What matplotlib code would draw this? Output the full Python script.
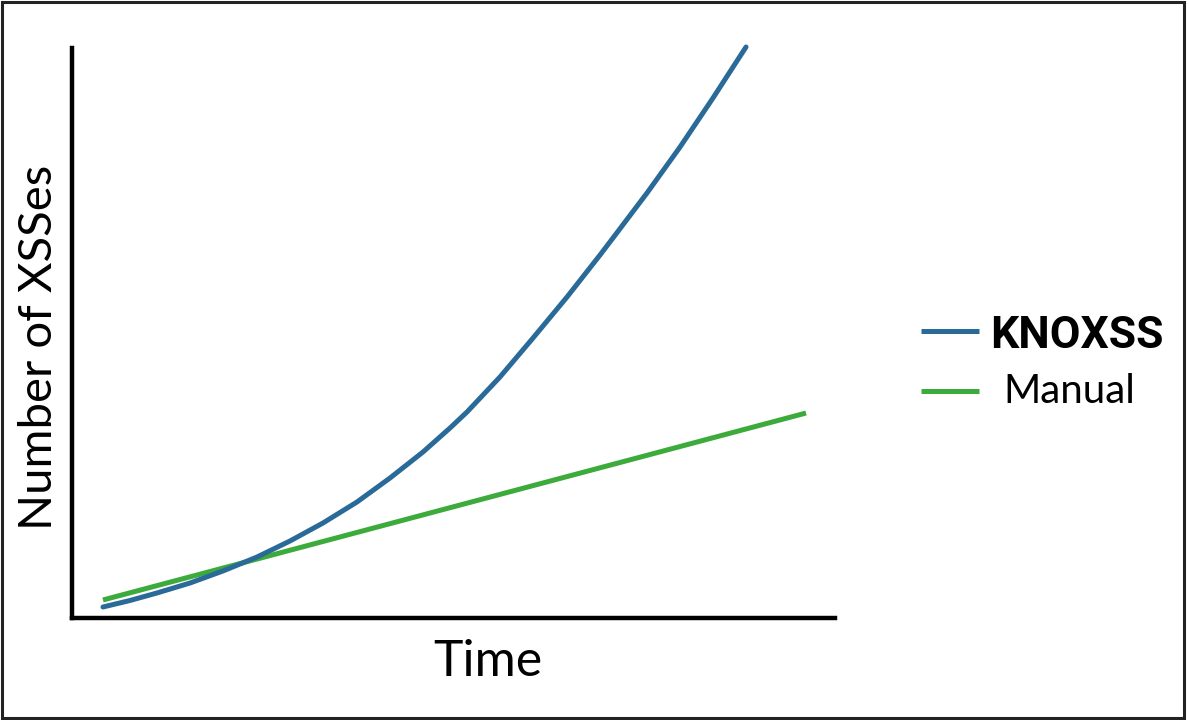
import matplotlib
matplotlib.use("Agg")
import matplotlib.pyplot as plt
from matplotlib.lines import Line2D
from matplotlib.patches import Rectangle

# values (time and count on a 0-10 scale)
knoxss_time = [0.406, 0.760, 1.114, 1.547, 1.979, 2.425, 2.857, 3.290, 3.735, 4.168, 4.600,
               4.954, 5.177, 5.609, 6.042, 6.488, 6.920, 7.090, 7.536, 7.969, 8.401, 8.834]
knoxss_count = [0.193, 0.307, 0.439, 0.614, 0.825, 1.070, 1.351, 1.667, 2.035, 2.456, 2.912,
                3.333, 3.614, 4.228, 4.912, 5.632, 6.368, 6.667, 7.456, 8.263, 9.123, 10.018]
manual_time = [0.406, 9.620]
manual_count = [0.316, 3.596]

BLUE = "#2a6a98"
GREEN = "#3cab3c"

plt.rcParams["font.family"] = ["Lato", "DejaVu Sans"]

fig = plt.figure(figsize=(11.89, 7.2), dpi=100)
ax = fig.add_axes([72 / 1189, 102 / 720, 763 / 1189, 570 / 720])

ax.plot(knoxss_time, knoxss_count, color=BLUE, linewidth=3.6,
        solid_capstyle="round", solid_joinstyle="round", clip_on=False, zorder=3)
ax.plot(manual_time, manual_count, color=GREEN, linewidth=3.6,
        solid_capstyle="butt", clip_on=False, zorder=2)

ax.set_xlim(0, 10)
ax.set_ylim(0, 10)
ax.set_xticks([])
ax.set_yticks([])
for side in ("top", "right"):
    ax.spines[side].set_visible(False)
for side in ("left", "bottom"):
    ax.spines[side].set_linewidth(3.2)
    ax.spines[side].set_color("black")
    ax.spines[side].set_capstyle("projecting")

fig.text(488 / 1189, 1 - 662 / 720, "Time", fontsize=36, ha="center", va="center")
fig.text(39 / 1189, 1 - 347 / 720, "Number of XSSes", fontsize=34, rotation=90,
         ha="center", va="center")

# legend keys
fig.add_artist(Line2D([921 / 1189, 979 / 1189], [1 - 331 / 720] * 2,
                      color=BLUE, linewidth=3.6, solid_capstyle="butt"))
fig.add_artist(Line2D([921 / 1189, 979 / 1189], [1 - 391 / 720] * 2,
                      color=GREEN, linewidth=3.6, solid_capstyle="butt"))
fig.text(990 / 1189, 1 - 336 / 720, "KNOXSS", fontsize=32, fontweight="bold",
         family=["Roboto", "DejaVu Sans"], va="center", ha="left")
fig.text(1003 / 1189, 1 - 392 / 720, "Manual", fontsize=29, va="center", ha="left")

# frame around the whole picture
fig.add_artist(Rectangle((0.002, 0.003), 0.994, 0.994, transform=fig.transFigure,
                         fill=False, edgecolor="#222222", linewidth=2.2))

fig.savefig("out.png", dpi=100)
